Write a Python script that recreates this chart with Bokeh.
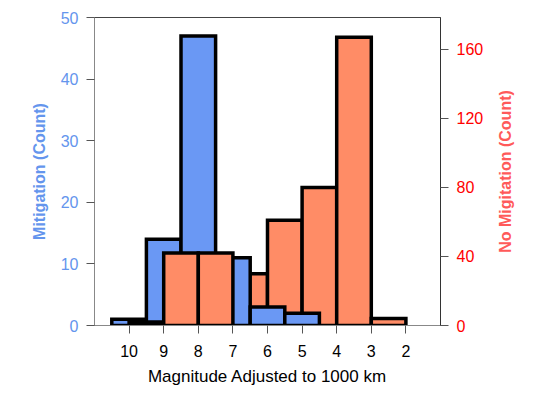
import math
import numpy as np
from bokeh.plotting import figure
from bokeh.models import Range1d, LinearAxis, FixedTicker, Label
from bokeh.embed import file_html
from bokeh.resources import INLINE

# ---- data ----
magnitude_ticks = [10, 9, 8, 7, 6, 5, 4, 3, 2]
blue_bin_high = [10.5, 9.5, 8.5, 7.5, 6.5, 5.5]
blue_bin_low = [9.5, 8.5, 7.5, 6.5, 5.5, 4.5]
mitigation_counts = [1, 14, 47, 11, 3, 2]

red_bin_high = [10, 9, 8, 7, 6, 5, 4, 3]
red_bin_low = [9, 8, 7, 6, 5, 4, 3, 2]
no_mitigation_counts = [2, 42, 42, 30, 61, 80, 167, 4]

left_ticks = [0, 10, 20, 30, 40, 50]
right_ticks = [0, 40, 80, 120, 160]

BLUE = "#6a98f4"
RED = "#ff8c66"
FONT = "Liberation Sans"

p = figure(frame_width=346, frame_height=308,
           min_border_left=94, min_border_top=17,
           min_border_right=95, min_border_bottom=61,
           x_range=Range1d(11, 1), y_range=Range1d(0, 50),
           output_backend="svg", toolbar_location=None)
p.extra_y_ranges = {"red": Range1d(0, 178.5)}

p.xgrid.visible = False
p.ygrid.visible = False
p.outline_line_color = "#444444"
p.outline_line_width = 1

# split red bins: those right of magnitude 7 drawn under blue, others over
rh = np.array(red_bin_high, dtype=float)
rl = np.array(red_bin_low, dtype=float)
rc = np.array(no_mitigation_counts, dtype=float)
under = rh <= 7
over = ~under

bar_kw = dict(line_color="black", line_width=3.5, line_join="miter")

p.quad(left=rh[under], right=rl[under], bottom=0, top=rc[under],
       fill_color=RED, y_range_name="red", **bar_kw)
p.quad(left=blue_bin_high, right=blue_bin_low, bottom=0, top=mitigation_counts,
       fill_color=BLUE, **bar_kw)
p.quad(left=rh[over], right=rl[over], bottom=0, top=rc[over],
       fill_color=RED, y_range_name="red", **bar_kw)

# x axis
xa = p.xaxis[0]
xa.ticker = FixedTicker(ticks=magnitude_ticks)
xa.axis_label = "Magnitude Adjusted to 1000 km"
xa.axis_label_text_font = FONT
xa.axis_label_text_font_style = "normal"
xa.axis_label_text_font_size = "17px"
xa.axis_label_text_color = "black"
xa.axis_label_standoff = 7
xa.major_label_text_font = FONT
xa.major_label_text_font_size = "16px"
xa.major_label_text_color = "black"
xa.major_label_standoff = 11
xa.major_tick_in = 0
xa.major_tick_out = 8
xa.minor_tick_line_color = None
xa.axis_line_color = "#888888"
xa.major_tick_line_color = "#555555"

# left axis
ya = p.yaxis[0]
ya.ticker = FixedTicker(ticks=left_ticks)
ya.axis_label = "Mitigation (Count)"
ya.axis_label_text_font = FONT
ya.axis_label_text_font_style = "bold"
ya.axis_label_text_font_size = "16px"
ya.axis_label_text_color = "#6495ed"
ya.axis_label_standoff = 10
ya.major_label_text_font = FONT
ya.major_label_text_font_size = "16px"
ya.major_label_text_color = "#6495ed"
ya.major_label_standoff = 8
ya.major_tick_in = 0
ya.major_tick_out = 8
ya.minor_tick_line_color = None
ya.axis_line_color = "#888888"
ya.major_tick_line_color = "#555555"

# right axis (ticks and numbers)
ra = LinearAxis(y_range_name="red", ticker=FixedTicker(ticks=right_ticks))
ra.major_label_text_font = FONT
ra.major_label_text_font_size = "16px"
ra.major_label_text_color = "#ff0000"
ra.major_label_standoff = 8
ra.major_tick_in = 0
ra.major_tick_out = 8
ra.minor_tick_line_color = None
ra.axis_line_color = "#333333"
ra.major_tick_line_color = "#555555"
p.add_layout(ra, "right")

# right axis title, reading bottom-to-top, in the right-hand side panel
right_title = Label(x=19, y=154, x_units="screen", y_units="screen",
                    text="No Migitation (Count)", angle=math.pi / 2,
                    text_align="center", text_baseline="middle",
                    text_font=FONT, text_font_style="bold",
                    text_font_size="16px", text_color="#ff5a5a")
p.add_layout(right_title, "right")

open("out.html", "w").write(file_html(p, INLINE))
